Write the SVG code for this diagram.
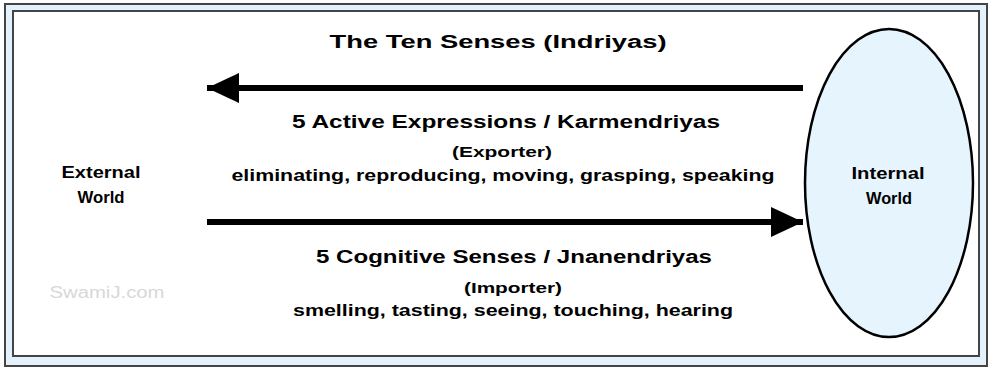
<svg xmlns="http://www.w3.org/2000/svg" width="992" height="368" viewBox="0 0 992 368">
<style>
.t{font-family:"Liberation Sans",Arial,sans-serif;font-weight:bold;fill:#000;text-anchor:middle}
.big{font-size:18px}
.mid{font-size:16px}
.sm{font-size:14px}
</style>
<defs>
<marker id="ah" viewBox="0 0 32 30" refX="32" refY="15" markerWidth="32" markerHeight="30" markerUnits="userSpaceOnUse" orient="auto">
<path d="M0,0 L32,15 L0,30 Z" fill="#000"/>
</marker>
</defs>
<rect x="0" y="0" width="992" height="368" fill="#fff"/>
<g id="frame">
<rect x="5" y="4" width="982" height="362" fill="#e2f1fb" stroke="#444" stroke-width="2"/>
<rect x="13" y="11" width="966" height="345" fill="#fff" stroke="#444" stroke-width="2"/>
</g>
<g id="internal-world">
<ellipse cx="889" cy="183" rx="84" ry="154" fill="#e6f4fd" stroke="#000" stroke-width="2.5"/>
<text class="t mid" x="888" y="179" textLength="73" lengthAdjust="spacingAndGlyphs">Internal</text>
<text class="t mid" x="889" y="204" textLength="46" lengthAdjust="spacingAndGlyphs">World</text>
</g>
<g id="external-world">
<text class="t mid" x="101" y="178" textLength="79" lengthAdjust="spacingAndGlyphs">External</text>
<text class="t mid" x="101" y="203" textLength="47" lengthAdjust="spacingAndGlyphs">World</text>
</g>
<g id="connectors">
<line x1="803" y1="88" x2="207" y2="88" stroke="#000" stroke-width="6" marker-end="url(#ah)"/>
<line x1="207" y1="222" x2="803" y2="222" stroke="#000" stroke-width="6" marker-end="url(#ah)"/>
</g>
<g id="labels">
<text class="t big" x="498" y="48" textLength="337" lengthAdjust="spacingAndGlyphs">The Ten Senses (Indriyas)</text>
<text class="t big" x="506" y="128" textLength="428" lengthAdjust="spacingAndGlyphs">5 Active Expressions / Karmendriyas</text>
<text class="t sm" x="502" y="157" textLength="100" lengthAdjust="spacingAndGlyphs">(Exporter)</text>
<text class="t mid" x="503" y="181" textLength="543" lengthAdjust="spacingAndGlyphs">eliminating, reproducing, moving, grasping, speaking</text>
<text class="t big" x="514" y="263" textLength="396" lengthAdjust="spacingAndGlyphs">5 Cognitive Senses / Jnanendriyas</text>
<text class="t sm" x="513" y="293" textLength="98" lengthAdjust="spacingAndGlyphs">(Importer)</text>
<text class="t mid" x="513" y="316" textLength="440" lengthAdjust="spacingAndGlyphs">smelling, tasting, seeing, touching, hearing</text>
</g>
<text x="107" y="298" font-family="Liberation Sans, Arial, sans-serif" font-size="16" fill="#d8d8d8" text-anchor="middle" textLength="115" lengthAdjust="spacingAndGlyphs">SwamiJ.com</text>
</svg>
